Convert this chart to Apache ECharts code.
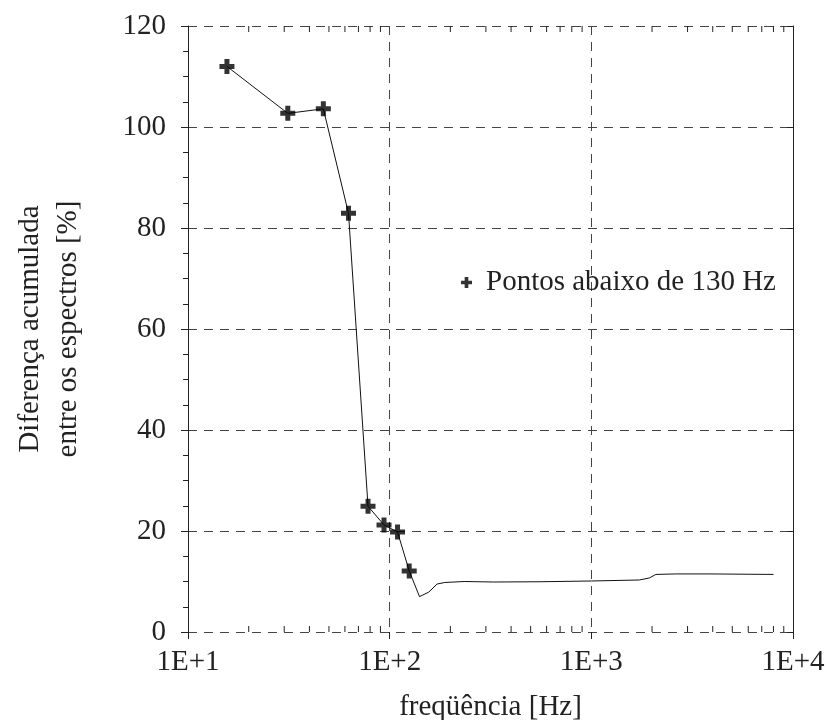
<!DOCTYPE html>
<html>
<head>
<meta charset="utf-8">
<script src="https://cdn.jsdelivr.net/npm/echarts@6/dist/echarts.min.js"></script>
<style>
  html, body { margin: 0; padding: 0; background: #fff; }
  #chart { width: 827px; height: 720px; }
</style>
</head>
<body>
<div id="chart"></div>
<script>
// Points below 130 Hz (marked with crosses)
const lowFreq = [15.6, 31.25, 46.9, 62.5, 78.1, 93.75, 109.4, 125];
const lowVal  = [112, 102.7, 103.6, 82.9, 24.9, 21.2, 19.8, 12.1];

// Remainder of the cumulative difference curve
const highFreq = [140.6, 156.25, 171.9, 187.5, 234, 328, 556, 1000, 1730, 1940, 2090, 2620, 3830, 8000];
const highVal  = [7.0, 7.9, 9.5, 9.8, 10.0, 9.9, 9.95, 10.1, 10.3, 10.7, 11.4, 11.5, 11.5, 11.4];

// Axis labels and ticks
const seriesName = 'Pontos abaixo de 130 Hz';
const yTitle = 'Diferença acumulada\nentre os espectros [%]';
const xTitle = 'freqüência [Hz]';
const decades = [10, 100, 1000];
const minorMultipliers = [2, 3, 4, 5, 6, 7, 8, 9];

const curve = lowFreq.map((f, i) => [f, lowVal[i]])
  .concat(highFreq.map((f, i) => [f, highVal[i]]));
const marks = lowFreq.map((f, i) => [f, lowVal[i]]);
const minorTicks = [];
decades.forEach(d => minorMultipliers.forEach(m => minorTicks.push([d * m, 0])));

const FONT = "'Liberation Serif', 'Times New Roman', Times, serif";
const FS = 29;
const plus = 'path://M-1,-3H1V-1H3V1H1V3H-1V1H-3V-1H-1Z';

const chart = echarts.init(document.getElementById('chart'));
chart.setOption({
  animation: false,
  backgroundColor: '#fff',
  textStyle: { fontFamily: FONT, color: '#222' },
  grid: { left: 188, right: 34, top: 26, bottom: 88, outerBoundsMode: 'none', containLabel: false },
  legend: {
    left: 456, top: 263,
    itemWidth: 11, itemHeight: 11, itemGap: 0,
    data: [{ name: seriesName, icon: plus }],
    textStyle: { fontFamily: FONT, fontSize: FS, color: '#222', padding: [0, 0, 0, 9] }
  },
  xAxis: {
    type: 'log', logBase: 10, min: 10, max: 10000,
    name: xTitle, nameLocation: 'middle', nameGap: 61,
    nameTextStyle: { fontFamily: FONT, fontSize: FS, color: '#222' },
    axisLine: { show: false },
    axisTick: { show: true, inside: false, length: 7, lineStyle: { color: '#222' } },
    axisLabel: {
      fontFamily: FONT, fontSize: FS, color: '#222', margin: 16,
      formatter: v => '1E+' + Math.round(Math.log10(v))
    },
    splitLine: { show: true, lineStyle: { color: '#444', type: [9, 7], width: 1 } },
    minorTick: { show: false }
  },
  yAxis: [{
    type: 'value', min: 0, max: 120, interval: 20, position: 'left',
    name: yTitle, nameLocation: 'middle', nameGap: 101, nameRotate: 90,
    nameTextStyle: { fontFamily: FONT, fontSize: FS, color: '#222', lineHeight: 38, align: 'center' },
    axisLine: { show: true, lineStyle: { color: '#222', width: 1 } },
    axisTick: { show: true, inside: false, length: 7, lineStyle: { color: '#222' } },
    minorTick: { show: true, splitNumber: 4, length: 5, lineStyle: { color: '#222' } },
    axisLabel: { fontFamily: FONT, fontSize: FS, color: '#222', margin: 22 },
    splitLine: { show: true, lineStyle: { color: '#444', type: [9, 7], width: 1 } }
  }, {
    type: 'value', min: 0, max: 120, interval: 20, position: 'right',
    axisLine: { show: true, lineStyle: { color: '#222', width: 1 } },
    axisTick: { show: true, inside: true, length: 6, lineStyle: { color: '#222' } },
    minorTick: { show: false },
    axisLabel: { show: false },
    splitLine: { show: false }
  }],
  series: [{
    name: 'curva', type: 'line', data: curve, showSymbol: false, symbol: 'none',
    lineStyle: { color: '#111', width: 1 }, z: 3, silent: true
  }, {
    name: seriesName, type: 'scatter', data: marks,
    symbol: plus, symbolSize: 15,
    itemStyle: { color: '#000' }, z: 4
  }, {
    name: 'ticks', type: 'custom', data: minorTicks, silent: true, clip: false, z: 2,
    encode: { x: 0, y: 1 },
    renderItem: (params, api) => {
      const x = api.coord([api.value(0), 0])[0];
      const yb = api.coord([10, 0])[1];
      const yt = api.coord([10, 120])[1];
      const style = { stroke: '#222', lineWidth: 1 };
      return {
        type: 'group',
        children: [
          { type: 'line', shape: { x1: x, y1: yb, x2: x, y2: yb - 6 }, style },
          { type: 'line', shape: { x1: x, y1: yt, x2: x, y2: yt + 6 }, style }
        ]
      };
    }
  }]
});
</script>
</body>
</html>
